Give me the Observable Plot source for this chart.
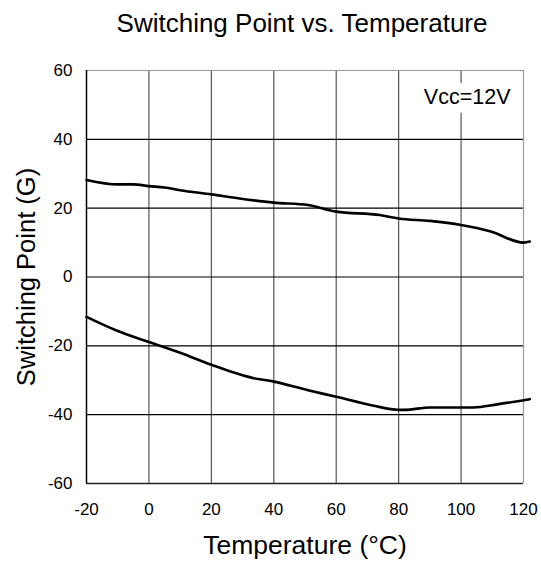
<!DOCTYPE html>
<html>
<head>
<meta charset="utf-8">
<script src="https://cdn.jsdelivr.net/npm/d3@7"></script>
<script src="https://cdn.jsdelivr.net/npm/@observablehq/plot@0.6"></script>
<style>
  html, body { margin: 0; padding: 0; background: #fff; }
</style>
</head>
<body>
<div id="chart"></div>
<script>
const titleText = "Switching Point vs. Temperature";
const xLabel = "Temperature (°C)";
const yLabel = "Switching Point (G)";
const noteText = "Vcc=12V";

const xTicks = [-20, 0, 20, 40, 60, 80, 100, 120];
const yTicks = [-60, -40, -20, 0, 20, 40, 60];

// Upper curve (operate point)
const upperT = [-20, -10, -5, 0, 5, 10, 20, 29, 40, 51, 60, 74, 80, 90, 100, 109.5, 120, 122];
const upperG = [28.2, 26.9, 26.9, 26.4, 26.0, 25.2, 24.0, 22.8, 21.6, 20.9, 19.0, 18.0, 17.0, 16.3, 15.1, 13.2, 10.0, 10.3];

// Lower curve (release point)
const lowerT = [-20, -10, 0, 10, 20, 33.6, 40, 51, 60, 72, 80, 82, 90, 104, 111.6, 122];
const lowerG = [-11.6, -15.7, -18.9, -22.0, -25.5, -29.4, -30.4, -32.9, -34.8, -37.4, -38.6, -38.6, -37.9, -37.9, -37.0, -35.5];

const upper = upperT.map((t, i) => ({t, g: upperG[i]}));
const lower = lowerT.map((t, i) => ({t, g: lowerG[i]}));

const fmt = d => String(d);

const chart = Plot.plot({
  width: 541,
  height: 569,
  marginLeft: 86,
  marginRight: 18,
  marginTop: 70,
  marginBottom: 86,
  style: {fontFamily: "'Liberation Sans', Arial, sans-serif", background: "#fff", color: "#000"},
  x: {domain: [-20, 120], ticks: xTicks},
  y: {domain: [-60, 60], ticks: yTicks},
  marks: [
    Plot.ruleX(xTicks.slice(1, -1), {stroke: "#555", strokeWidth: 1.2}),
    Plot.ruleY(yTicks.slice(1, -1), {stroke: "#000", strokeWidth: 1.2}),
    Plot.ruleY([60], {stroke: "#999", strokeWidth: 1.2}),
    Plot.ruleX([120], {stroke: "#999", strokeWidth: 1.2}),
    Plot.ruleX([-20], {stroke: "#000", strokeWidth: 1.5}),
    Plot.ruleY([-60], {stroke: "#222", strokeWidth: 1.5}),
    Plot.axisX({ticks: xTicks, tickSize: 0, tickPadding: 19, fontSize: 17, label: null, tickFormat: fmt}),
    Plot.axisY({ticks: yTicks, tickSize: 0, tickPadding: 14, fontSize: 17, label: null, tickFormat: fmt}),
    Plot.line(upper, {x: "t", y: "g", stroke: "#000", strokeWidth: 2.6, curve: "monotone-x"}),
    Plot.line(lower, {x: "t", y: "g", stroke: "#000", strokeWidth: 2.6, curve: "monotone-x"}),
    Plot.text([noteText], {frameAnchor: "top-right", textAnchor: "end", lineAnchor: "middle", dx: -13, dy: 27, fontSize: 21.5, fill: "#000", stroke: "#fff", strokeWidth: 20}),
    Plot.text([titleText], {frameAnchor: "top", lineAnchor: "middle", dx: -3, dy: -47, fontSize: 26, fill: "#000"}),
    Plot.text([xLabel], {frameAnchor: "bottom", lineAnchor: "middle", dy: 62, fontSize: 26.5, fill: "#000"}),
    Plot.text([yLabel], {frameAnchor: "left", textAnchor: "middle", rotate: -90, lineAnchor: "middle", dx: -60, fontSize: 25.5, fill: "#000"})
  ]
});
document.getElementById("chart").appendChild(chart);
</script>
</body>
</html>
